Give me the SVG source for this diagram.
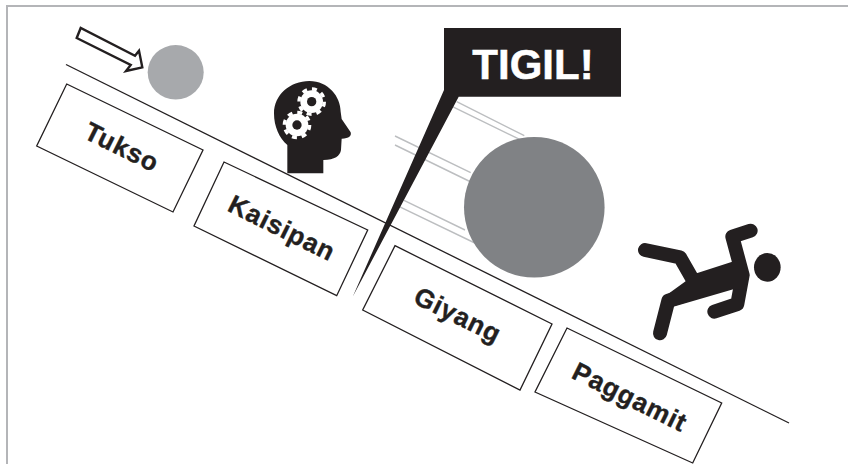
<svg xmlns="http://www.w3.org/2000/svg" width="848" height="464" viewBox="0 0 848 464">
<style>
.box{fill:#fff;stroke:#231f20;stroke-width:1.3}
.line{fill:none;stroke:#231f20;stroke-width:1.3}
.speed{fill:none;stroke:#bcbec0;stroke-width:1.4}
.lbl{font-family:"Liberation Sans",Arial,sans-serif;font-weight:700;font-size:26px;fill:#231f20;stroke:#231f20;stroke-width:.4;text-anchor:middle;letter-spacing:.9px}
.ink{fill:#231f20}
.limb{fill:none;stroke:#231f20;stroke-width:42;stroke-linecap:round;stroke-linejoin:round}
</style>
<path d="M7 464V6H848" fill="none" stroke="#b4b5b8" stroke-width="2"/>
<g id="connectors">
<line class="line" x1="66" y1="64.5" x2="789" y2="423"/>
<path class="line" d="M80.7 28L76.7 38L130.7 65L126 71L142.3 67.3L139 50.7L135 55.7Z" style="stroke-width:2.4"/>
<path class="speed" d="M456.7 101.7L524.3 135.7M444.3 102.7L524.3 141.7M395 136L470.7 172.7M395 145L475 184M404 200.3L465 230M399.3 206.7L479 245"/>
</g>
<g id="ball-small"><ellipse cx="175.7" cy="72.3" rx="28" ry="27.2" fill="#a7a9ac"/></g>
<g id="ball-large"><circle cx="534.3" cy="207.3" r="70.3" fill="#808285"/></g>
<g id="node-tukso">
<path class="box" d="M66.7 84L203 150L173 212L36.7 146Z"/>
<text class="lbl" transform="translate(118 155) rotate(26.4)">Tukso</text>
</g>
<g id="node-kaisipan">
<path class="box" d="M224 162L367.7 230L336.7 295.7L194 226Z"/>
<text class="lbl" transform="translate(278 236) rotate(26.4)">Kaisipan</text>
</g>
<g id="node-giyang">
<path class="box" d="M395 245.7L552 324L520 390L362.7 310Z"/>
<text class="lbl" transform="translate(454 323) rotate(26.4)">Giyang</text>
</g>
<g id="node-paggamit">
<path class="box" d="M567 328L721.7 403L692.7 463L535 392Z"/>
<text class="lbl" transform="translate(626 405) rotate(26.4)">Paggamit</text>
</g>
<g id="callout">
<path class="ink" d="M444 28H621V96.7H458.7L352.7 296.7L444 90Z"/>
<text x="533" y="79" text-anchor="middle" font-family="'Liberation Sans',Arial,sans-serif" font-weight="700" font-size="42" fill="#fff" stroke="#fff" stroke-width=".5">TIGIL!</text>
</g>
<g id="head" transform="translate(250 70) scale(.3333)">
<path class="ink" d="M112 310V225C88 205 72 170 72 130C72 75 120 33 178 33C235 33 272 80 272 125L275 147L302 187C305 198 298 206 275 206L273 240C270 258 255 269 220 270V310Z"/>
<g fill="#fff">
<circle cx="185" cy="95" r="34"/><circle cx="141" cy="165" r="34"/>
</g>
<g fill="none" stroke="#fff" stroke-width="10">
<circle cx="185" cy="95" r="38" stroke-dasharray="14.9 14.9"/>
<circle cx="141" cy="165" r="38" stroke-dasharray="14.9 14.9"/>
</g>
<circle class="ink" cx="185" cy="95" r="14"/><circle class="ink" cx="141" cy="165" r="14"/>
</g>
<g id="figure" transform="translate(600 200) scale(.3333)">
<path class="limb" d="M135 150L240 172L282 245"/>
<path class="limb" d="M180 400L205 302L400 240"/>
<path class="limb" d="M343 335L412 312L428 225L397 110L452 92"/>
<path class="ink" d="M290 220L420 178L448 225L430 268L400 268L215 322L200 285Z"/>
<ellipse class="ink" cx="502" cy="202" rx="40" ry="43"/>
</g>
</svg>
